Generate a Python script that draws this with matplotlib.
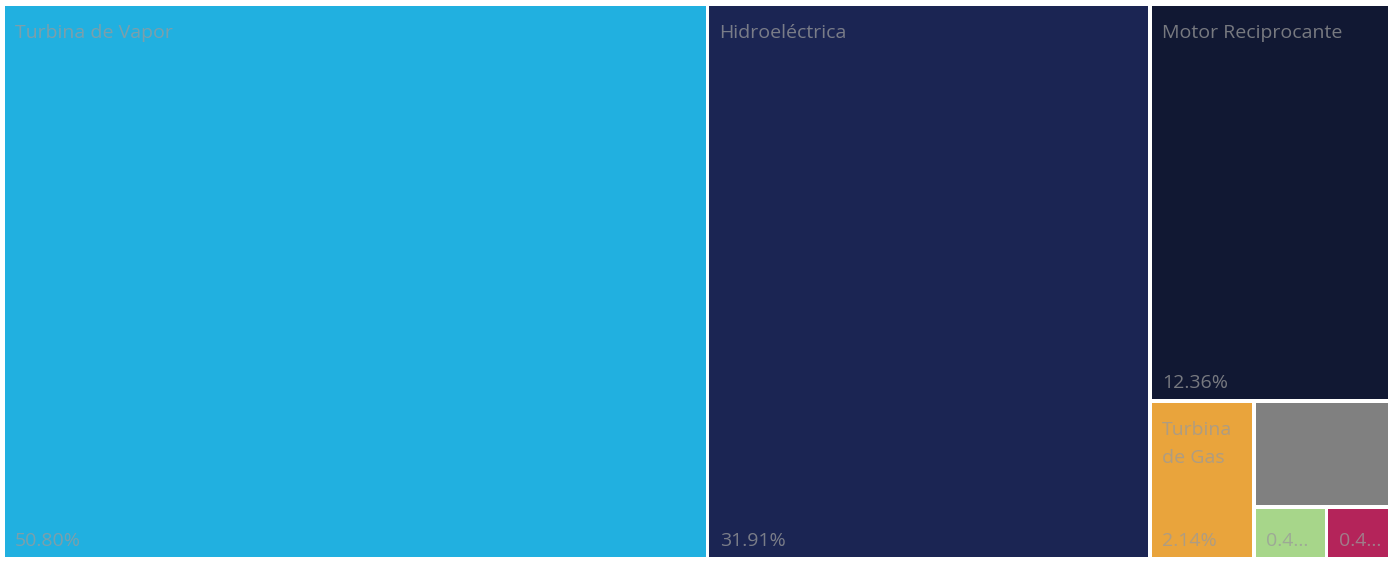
import matplotlib.pyplot as plt
from matplotlib.patches import Rectangle

# Datos del treemap (porcentajes por tecnología)
categorias = ["Turbina de Vapor", "Hidroeléctrica", "Motor Reciprocante",
              "Turbina de Gas", "", "", ""]
valores = [50.80, 31.91, 12.36, 2.14, 1.87, 0.49, 0.43]
etiquetas_pct = ["50.80%", "31.91%", "12.36%", "2.14%", "", "0.4...", "0.4..."]
colores = ["#21B0E0", "#1B2553", "#111833", "#E9A43C", "#808080", "#A7D68A", "#B4245A"]

W, H = 1387.0, 555.0


def peor_ratio(fila, lado):
    s = sum(fila)
    return max(max(lado * lado * v / (s * s), (s * s) / (lado * lado * v)) for v in fila)


def squarify(vals, x, y, w, h):
    # vals ya escalados al área
    rects = []
    vals = list(vals)
    while vals:
        lado = min(w, h)
        fila = [vals.pop(0)]
        while vals and peor_ratio(fila + [vals[0]], lado) <= peor_ratio(fila, lado):
            fila.append(vals.pop(0))
        s = sum(fila)
        if w >= h:
            ancho = s / h
            yy = y
            for v in fila:
                rects.append((x, yy, ancho, v / ancho))
                yy += v / ancho
            x += ancho
            w -= ancho
        else:
            alto = s / w
            xx = x
            for v in fila:
                rects.append((xx, y, v / alto, alto))
                xx += v / alto
            y += alto
            h -= alto
    return rects


total = sum(valores)
areas = [v / total * W * H for v in valores]
rects = squarify(areas, 0, 0, W, H)

fig = plt.figure(figsize=(13.93, 5.61), dpi=100)
ax = fig.add_axes([3 / 1393, 2 / 561, W / 1393, H / 561])
ax.set_xlim(0, W)
ax.set_ylim(H, 0)
ax.axis("off")

pad = 1.8
txt = dict(color="#9a9a9a", alpha=0.75, fontsize=14, family="Open Sans")
for (x, y, w, h), c, nom, pct in zip(rects, colores, categorias, etiquetas_pct):
    ax.add_patch(Rectangle((x + pad, y + pad), w - 2 * pad, h - 2 * pad,
                           facecolor=c, edgecolor="none"))
    if nom:
        nombre = nom
        if w < 120:
            nombre = nom.replace(" de ", "\nde ")
        ax.text(x + 12, y + 20, nombre, va="top", ha="left", linespacing=1.75, **txt)
    if pct:
        ax.text(x + 12, y + h - 13, pct, va="baseline", ha="left", **txt)

fig.savefig("out.png", dpi=100, facecolor="white")
